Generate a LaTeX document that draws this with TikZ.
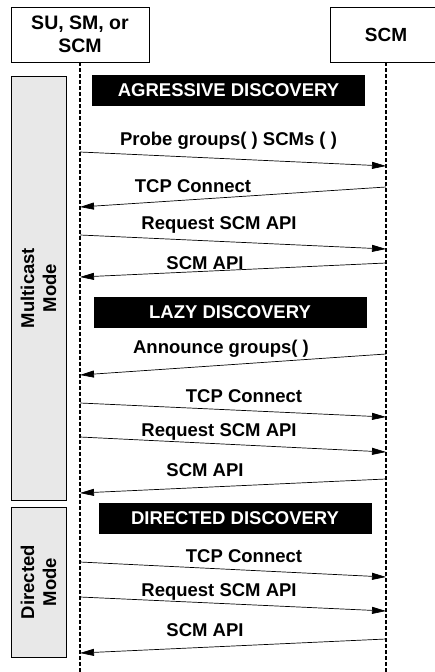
\documentclass[tikz,border=0pt]{standalone}
\usepackage{fontspec}
\setmainfont{Liberation Sans}
\usetikzlibrary{arrows.meta,shadows}

\begin{document}
\begin{tikzpicture}[x=1pt,y=-1pt,>={Triangle[length=14pt,width=7pt]},
  every node/.style={font=\bfseries\fontsize{18.5}{22}\selectfont},
  actor/.style={draw,line width=0.8pt,fill=white,minimum height=55pt,align=center,inner sep=0pt},
  modebox/.style={draw,line width=0.6pt,fill=gray!18,minimum width=55pt,
    drop shadow={shadow xshift=1.2pt,shadow yshift=-1.2pt,fill=gray!80,opacity=1}},
  banner/.style={fill=black,text=white,minimum width=273pt,minimum height=31pt,inner sep=0pt},
  msg/.style={->,line width=0.7pt},
  life/.style={dash pattern=on 4pt off 2pt,line width=1.2pt},
  lbl/.style={anchor=base,inner sep=0pt}]
  \useasboundingbox (0,0) rectangle (435,672);
  % actors and their lifelines
  \node[actor,minimum width=138pt,font=\bfseries\fontsize{19.5}{23}\selectfont] (caller) at (80,34.5) {SU, SM, or\\SCM};
  \node[actor,minimum width=112pt,font=\bfseries\fontsize{19}{23}\selectfont] (scm) at (386,34.5) {SCM};
  \coordinate (callerend) at (80,672);
  \coordinate (scmend) at (386,672);
  \draw[life] (caller.south) -- (callerend);
  \draw[life] (scm.south) -- (scmend);
  % mode boxes
  \node[modebox,minimum height=424pt] (mcbox) at (38.5,288) {};
  \node[rotate=90,align=center] (mctext) at (mcbox) {Multicast\\Mode};
  \node[modebox,minimum height=150pt] (dirbox) at (38.5,582) {};
  \node[rotate=90,align=center] (dirtext) at (dirbox) {Directed\\Mode};
  % phase banners
  \node[banner] (agr) at (228.5,90.5) {AGRESSIVE DISCOVERY};
  \node[banner] (lazy) at (230,312.5) {LAZY DISCOVERY};
  \node[banner] (dir) at (235,518.5) {DIRECTED DISCOVERY};
  % message end points (left y / right y)
  \foreach \n/\ya/\yb in {1/152/166,2/207/187,3/235/249,4/277/263,5/375/354,6/403/417,
                          7/437/452,8/493/479,9/562/577,10/597/611,11/653/639}{
    \coordinate (l\n) at (80,\ya);
    \coordinate (r\n) at (386,\yb);
  }
  % agressive discovery
  \draw[msg] (l1) -- (r1);
  \node[lbl] (m1) at (228.5,145) {Probe groups( ) SCMs ( )};
  \draw[msg] (r2) -- (l2);
  \node[lbl] (m2) at (193,192.5) {TCP Connect};
  \draw[msg] (l3) -- (r3);
  \node[lbl] (m3) at (219,229) {Request SCM API};
  \draw[msg] (r4) -- (l4);
  \node[lbl] (m4) at (205,269) {SCM API};
  % lazy discovery
  \draw[msg] (r5) -- (l5);
  \node[lbl] (m5) at (221,353) {Announce groups( )};
  \draw[msg] (l6) -- (r6);
  \node[lbl] (m6) at (244,402.5) {TCP Connect};
  \draw[msg] (l7) -- (r7);
  \node[lbl] (m7) at (219,436) {Request SCM API};
  \draw[msg] (r8) -- (l8);
  \node[lbl] (m8) at (205,476) {SCM API};
  % directed discovery
  \draw[msg] (l9) -- (r9);
  \node[lbl] (m9) at (244,562.5) {TCP Connect};
  \draw[msg] (l10) -- (r10);
  \node[lbl] (m10) at (219,596) {Request SCM API};
  \draw[msg] (r11) -- (l11);
  \node[lbl] (m11) at (205,636) {SCM API};
\end{tikzpicture}
\end{document}
